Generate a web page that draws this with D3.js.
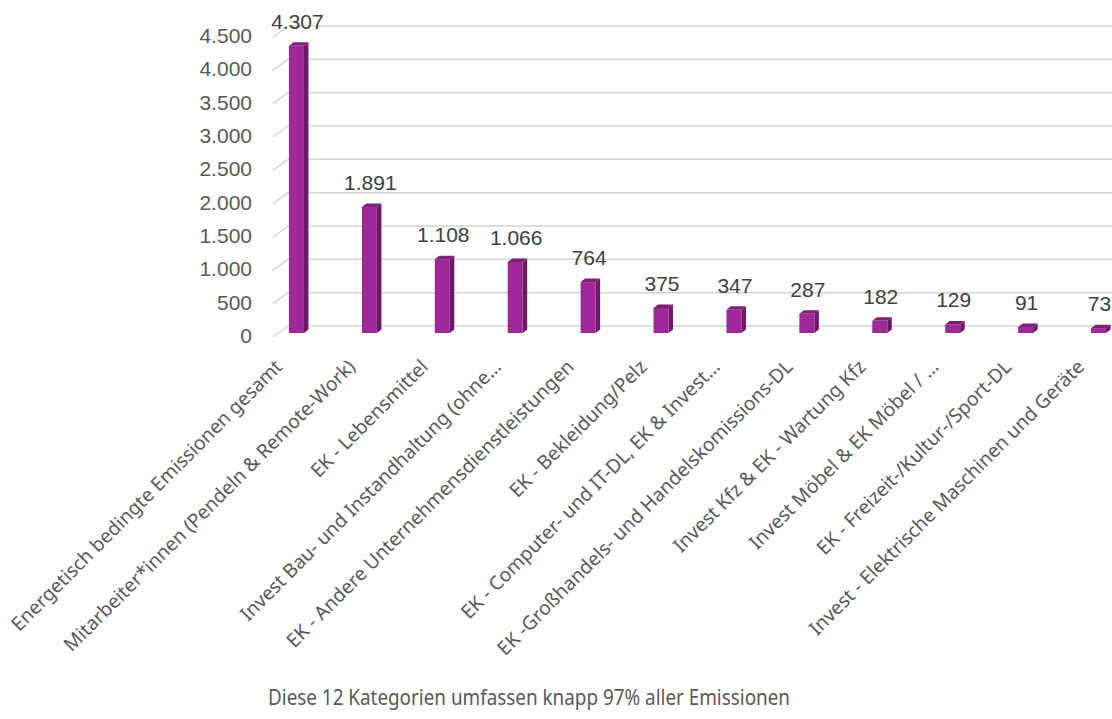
<!DOCTYPE html>
<html>
<head>
<meta charset="utf-8">
<script src="https://cdn.jsdelivr.net/npm/d3@7"></script>
<style>
  body { margin: 0; background: #fff; }
  svg { display: block; }
</style>
</head>
<body>
<svg id="chart" width="1112" height="719"></svg>
<script>
// data
var categories = [
  "Energetisch bedingte Emissionen gesamt",
  "Mitarbeiter*innen (Pendeln & Remote-Work)",
  "EK - Lebensmittel",
  "Invest Bau- und Instandhaltung (ohne…",
  "EK - Andere Unternehmensdienstleistungen",
  "EK - Bekleidung/Pelz",
  "EK - Computer- und IT-DL, EK & Invest…",
  "EK -Großhandels- und Handelskomissions-DL",
  "Invest Kfz & EK - Wartung Kfz",
  "Invest Möbel & EK Möbel / …",
  "EK - Freizeit-/Kultur-/Sport-DL",
  "Invest - Elektrische Maschinen und Geräte"
];
var values = [4307, 1891, 1108, 1066, 764, 375, 347, 287, 182, 129, 91, 73];
var yTicks = [0, 500, 1000, 1500, 2000, 2500, 3000, 3500, 4000, 4500];
var caption = "Diese 12 Kategorien umfassen knapp 97% aller Emissionen";

var svg = d3.select("#chart");
var de = d3.formatLocale({decimal: ",", thousands: ".", grouping: [3], currency: ["", "€"]});
var fmt = de.format(",d");

var textCol = "#595959";
var gridCol = "#d4d4d4";

// front plane of bars
var y = d3.scaleLinear().domain([0, 4500]).range([333, 33]);
var x = d3.scaleBand().domain(categories).range([260, 1135]);

// 3d offsets
var wallDx = 15, wallDy = 11;    // floor depth (front edge -> back wall)
var backShift = 7;               // bar front -> back wall in y
var barW = 15, sideDx = 4.5, sideDy = 3.5;

function yBack(v) { return y(v) - backShift; }
var wallX = 288;

// back wall gridlines
var grid = svg.append("g");
yTicks.forEach(function(t) {
  grid.append("line")
    .attr("x1", wallX - wallDx).attr("y1", yBack(t) + wallDy)
    .attr("x2", wallX).attr("y2", yBack(t))
    .attr("stroke", gridCol).attr("stroke-width", 1.5);
  grid.append("line")
    .attr("x1", wallX).attr("y1", yBack(t))
    .attr("x2", 1112).attr("y2", yBack(t))
    .attr("stroke", gridCol).attr("stroke-width", 1.5);
});

// y tick labels
svg.append("g").selectAll("text")
  .data(yTicks)
  .enter().append("text")
  .attr("x", 252)
  .attr("y", function(d) { return yBack(d) + 9.5; })
  .attr("text-anchor", "end")
  .attr("dominant-baseline", "central")
  .attr("font-family", "Liberation Sans, Arial, sans-serif")
  .attr("font-size", 21)
  .attr("fill", textCol)
  .text(function(d) { return fmt(d); });

// bars
var bars = svg.append("g").selectAll("g")
  .data(categories)
  .enter().append("g");

function bx(d) { return x(d) + (x.bandwidth() - barW) / 2; }

bars.append("path")   // side
  .attr("d", function(d, i) {
    var x0 = bx(d) + barW, yt = y(values[i]), yb = y(0);
    return "M" + x0 + "," + yt + "L" + (x0 + sideDx) + "," + (yt - sideDy) +
      "L" + (x0 + sideDx) + "," + (yb - sideDy) + "L" + x0 + "," + yb + "Z";
  })
  .attr("fill", "#6a1a66");

bars.append("path")   // top
  .attr("d", function(d, i) {
    var x0 = bx(d), yt = y(values[i]);
    return "M" + x0 + "," + yt + "L" + (x0 + sideDx) + "," + (yt - sideDy) +
      "L" + (x0 + barW + sideDx) + "," + (yt - sideDy) + "L" + (x0 + barW) + "," + yt + "Z";
  })
  .attr("fill", "#7e1f78");

bars.append("rect")   // front
  .attr("x", function(d) { return bx(d); })
  .attr("y", function(d, i) { return y(values[i]); })
  .attr("width", barW)
  .attr("height", function(d, i) { return y(0) - y(values[i]); })
  .attr("fill", "#9e2896");

// value labels
svg.append("g").selectAll("text")
  .data(categories)
  .enter().append("text")
  .attr("x", function(d) { return bx(d) + barW / 2 + 1; })
  .attr("y", function(d, i) { return y(values[i]) - 17; })
  .attr("text-anchor", "middle")
  .attr("font-family", "Liberation Sans, Arial, sans-serif")
  .attr("font-size", 21)
  .attr("fill", "#404040")
  .text(function(d, i) { return fmt(values[i]); });

// category labels, rotated
var catFont = 17;
var cats = svg.append("g").selectAll("text")
  .data(categories)
  .enter().append("text")
  .attr("transform", function(d) {
    var cx = x(d) + x.bandwidth() / 2 - 13;
    return "translate(" + cx + ",368) rotate(-45)";
  })
  .attr("text-anchor", "end")
  .attr("font-family", "Noto Sans, sans-serif")
  .attr("font-size", catFont)
  .attr("fill", textCol)
  .text(function(d) { return d; });

// fit font so the first label is about as long as in the picture
var len0 = cats.nodes()[0].getComputedTextLength();
var fitted = catFont * 374 / len0;
cats.attr("font-size", fitted);

svg.append("text")
  .attr("x", 529)
  .attr("y", 705)
  .attr("text-anchor", "middle")
  .attr("font-family", "Noto Sans, sans-serif")
  .attr("font-size", 22)
  .attr("textLength", 522)
  .attr("lengthAdjust", "spacingAndGlyphs")
  .attr("fill", textCol)
  .text(caption);
</script>
</body>
</html>
